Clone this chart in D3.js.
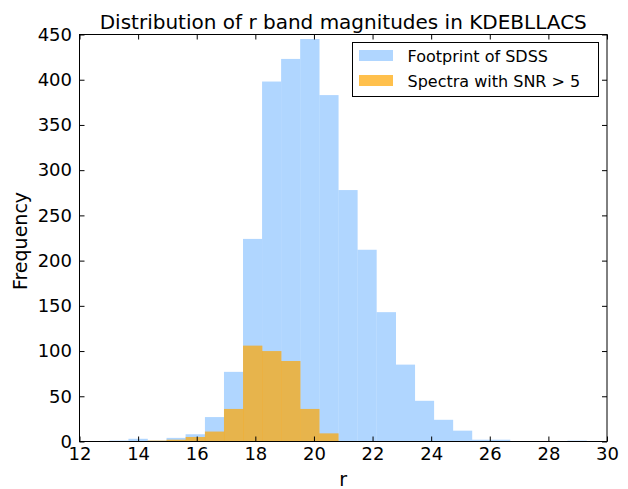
<!DOCTYPE html>
<html><head><meta charset="utf-8">
<script src="https://cdn.jsdelivr.net/npm/d3@7"></script>
<style>body{margin:0;background:#fff}svg{display:block;font-family:"DejaVu Sans",sans-serif}</style>
</head><body><svg id="c" width="628" height="489"></svg>
<script>
const binEdges = [13.02, 13.67, 14.32, 14.97, 15.62, 16.28, 16.93, 17.58, 18.23, 18.88, 19.53, 20.18, 20.83, 21.48, 22.13, 22.79, 23.44, 24.09, 24.74, 25.39, 26.04, 26.69, 27.34, 27.99, 28.65, 29.30];
const footprintCounts = [1, 3, 1, 4, 8, 27, 77, 224, 398, 423, 445, 383, 278, 212, 143, 85, 45, 24, 12, 2, 2, 0, 0, 0, 1];
const snrCounts = [0, 0, 1, 2, 5, 11, 36, 106, 100, 89, 36, 9, 0, 0, 0, 0, 0, 0, 0, 0, 0, 0, 0, 0, 0];
const xTicks = [12, 14, 16, 18, 20, 22, 24, 26, 28, 30];
const yTicks = [0, 50, 100, 150, 200, 250, 300, 350, 400, 450];
const seriesNames = ["Footprint of SDSS", "Spectra with SNR > 5"];

const L = 79.5, R = 607, T = 34.5, B = 441.5;
const svg = d3.select("#c");
const x = d3.scaleLinear().domain([12, 30]).range([L, R]);
const y = d3.scaleLinear().domain([0, 450]).range([B, T]);
const blue = "#b0d6ff", orange = "#ffa500";

function bars(counts, fill, op) {
  svg.append("g").selectAll("rect").data(counts).join("rect")
    .attr("x", (d, i) => x(binEdges[i]))
    .attr("width", (d, i) => x(binEdges[i + 1]) - x(binEdges[i]) + 0.3)
    .attr("y", d => y(d))
    .attr("height", d => B - y(d))
    .attr("fill", fill).attr("fill-opacity", op);
}
bars(footprintCounts, blue, 1);
bars(snrCounts, orange, 0.7);

const tl = 5;
const axB = d3.axisBottom(x).tickValues(xTicks).tickSizeInner(-tl).tickSizeOuter(0).tickPadding(6);
const axT = d3.axisTop(x).tickValues(xTicks).tickSizeInner(-tl).tickSizeOuter(0).tickFormat("");
const axL = d3.axisLeft(y).tickValues(yTicks).tickSizeInner(-tl).tickSizeOuter(0).tickPadding(7.5);
const axR = d3.axisRight(y).tickValues(yTicks).tickSizeInner(-tl).tickSizeOuter(0).tickFormat("");
function style(g) {
  g.selectAll("path").remove();
  g.selectAll("line").attr("stroke", "#000").attr("stroke-width", 1);
  g.selectAll("text").attr("fill", "#000").style("font-size", "18px").style("font-family", "DejaVu Sans");
}
svg.append("g").attr("transform", `translate(0,${B})`).call(axB).call(style);
svg.append("g").attr("transform", `translate(0,${T})`).call(axT).call(style);
svg.append("g").attr("transform", `translate(${L},0)`).call(axL).call(style);
svg.append("g").attr("transform", `translate(${R},0)`).call(axR).call(style);

svg.append("rect").attr("x", L).attr("y", T).attr("width", R - L).attr("height", B - T)
  .attr("fill", "none").attr("stroke", "#000").attr("stroke-width", 1);

svg.append("text").attr("x", (L + R) / 2).attr("y", 29).attr("text-anchor", "middle")
  .style("font-size", "20px").text("Distribution of r band magnitudes in KDEBLLACS");
svg.append("text").attr("x", (L + R) / 2).attr("y", 486).attr("text-anchor", "middle")
  .style("font-size", "19px").text("r");
svg.append("text").attr("transform", `translate(27,241) rotate(-90)`).attr("text-anchor", "middle")
  .style("font-size", "19px").text("Frequency");

const lg = svg.append("g");
lg.append("rect").attr("x", 352.5).attr("y", 42.5).attr("width", 246).attr("height", 54)
  .attr("fill", "#fff").attr("stroke", "#000").attr("stroke-width", 1);
const colors = [[blue, 1], [orange, 0.7]];
seriesNames.forEach((n, i) => {
  const yy = 50 + i * 25;
  lg.append("rect").attr("x", 359).attr("y", yy).attr("width", 34).attr("height", 11)
    .attr("fill", colors[i][0]).attr("fill-opacity", colors[i][1]);
  lg.append("text").attr("x", 407.5).attr("y", yy + 11.5).style("font-size", "16px").text(n);
});
</script></body></html>
